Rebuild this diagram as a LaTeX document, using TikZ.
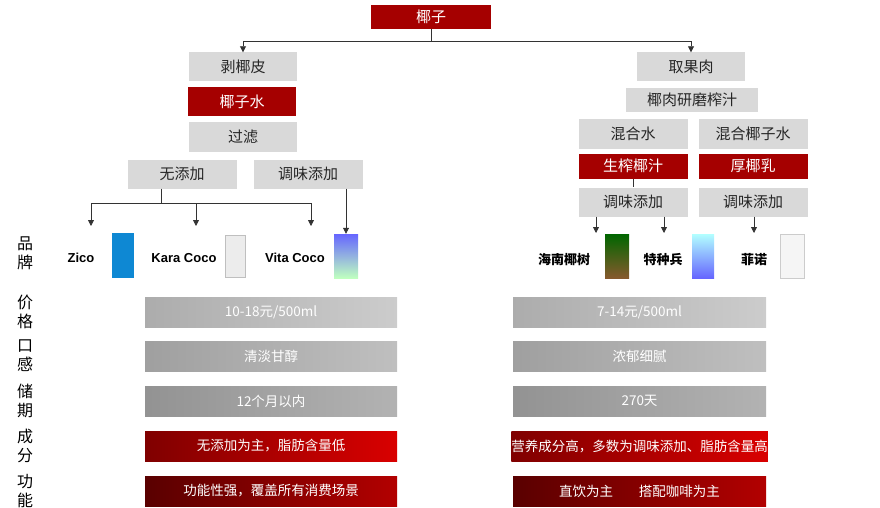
\documentclass[tikz,border=0pt]{standalone}
\usepackage{fontspec}
\setmainfont{Noto Sans CJK SC}
\newfontfamily\latinbold{Liberation Sans}
\usetikzlibrary{arrows.meta}
\definecolor{boxgray}{HTML}{D9D9D9}
\definecolor{cocored}{HTML}{A50000}
\tikzset{
  graybox/.style={fill=boxgray,minimum height=#1,inner sep=0pt,font=\fontsize{15}{15}\selectfont,text=black!85},
  graybox/.default=29pt,
  redbox/.style={fill=cocored,minimum height=#1,inner sep=0pt,font=\fontsize{15}{15}\selectfont,text=white},
  redbox/.default=29pt,
  arr/.style={-{Triangle[length=6pt,width=6pt]},black!80,line width=0.8pt},
  lnk/.style={black!80,line width=0.8pt},
  brand/.style={font=\bfseries\fontsize{13}{13}\selectfont,inner sep=0pt},
  rowlbl/.style={font=\fontsize{16}{19}\selectfont,align=center,inner sep=0pt},
  bartext/.style={font=\fontsize{13.5}{13.5}\selectfont,text=white}
}
\begin{document}
\begin{tikzpicture}[x=1pt,y=-1pt]
  \useasboundingbox (0,0) rectangle (880,508);
  % tree, top
  \node[redbox=24pt,minimum width=120pt] (root) at (431,17) {椰子};
  \node[graybox,minimum width=108pt] (peel) at (243,67) {剥椰皮};
  \node[redbox,minimum width=108pt] (water) at (242,102) {椰子水};
  \node[graybox,minimum width=108pt] (filter) at (243,137) {过滤};
  \node[graybox,minimum width=109pt] (plain) at (182,174) {无添加};
  \node[graybox,minimum width=109pt] (flavl) at (308,174) {调味添加};
  \node[graybox,minimum width=108pt] (flesh) at (691,67) {取果肉};
  \node[graybox=24pt,minimum width=132pt] (grind) at (692,100) {椰肉研磨榨汁};
  \node[graybox,minimum width=109pt] (mixw) at (633,134) {混合水};
  \node[graybox,minimum width=109pt] (mixc) at (753,134) {混合椰子水};
  \node[redbox=25pt,minimum width=109pt] (juice) at (633,166) {生榨椰汁};
  \node[redbox=25pt,minimum width=109pt] (milk) at (753,166) {厚椰乳};
  \node[graybox,minimum width=109pt] (flavr) at (633,202) {调味添加};
  \node[graybox,minimum width=109pt] (flavm) at (753,202) {调味添加};
  \coordinate (split) at (431,41);
  \draw[lnk] (root.south) -- (split);
  \draw[arr] (split) -| (peel.north);
  \draw[arr] (split) -| (flesh.north);
  \draw[lnk] (juice.south) -- (flavr.north);
  % brands
  \node[brand] (zico) at (81,258) {\latinbold\bfseries Zico};
  \node[brand] (kara) at (184,258) {\latinbold\bfseries Kara Coco};
  \node[brand] (vita) at (295,258) {\latinbold\bfseries Vita Coco};
  \node[brand] (yeshu) at (564,260) {海南椰树};
  \node[brand] (tezhong) at (663,260) {特种兵};
  \node[brand] (feinuo) at (754,260) {菲诺};
  % packs
  \node[fill=cyan!70!blue,minimum width=22pt,minimum height=45pt,inner sep=0pt] (pzico) at (123,255) {};
  \node[fill=gray!15,draw=gray!50,minimum width=20pt,minimum height=42pt,inner sep=0pt] (pkara) at (235,256) {};
  \node[top color=blue!60,bottom color=green!25,minimum width=24pt,minimum height=44pt,inner sep=0pt] (pvita) at (346,256) {};
  \node[top color=green!40!black,bottom color=brown!70!black,minimum width=24pt,minimum height=44pt,inner sep=0pt] (pyeshu) at (617,256) {};
  \node[top color=cyan!30,bottom color=blue!60,minimum width=22pt,minimum height=44pt,inner sep=0pt] (ptezhong) at (703,256) {};
  \node[fill=gray!8,draw=gray!40,minimum width=24pt,minimum height=44pt,inner sep=0pt] (pfeinuo) at (792,256) {};
  \coordinate (fork) at (161,203);
  \draw[lnk] (plain.south -| fork) -- (fork);
  \draw[arr] (fork) -| (91,226);
  \draw[arr] (fork) -| (196,226);
  \draw[arr] (fork) -| (311,226);
  \draw[arr] (flavl.south -| 346,0) -- (pvita.north -| 346,0);
  \draw[arr] (flavr.south -| 596,0) -- (596,233);
  \draw[arr] (flavr.south -| 664,0) -- (664,233);
  \draw[arr] (flavm.south -| 754,0) -- (754,233);
  % rows
  \node[rowlbl] (lbrand) at (25,253) {品\\牌};
  \foreach \y/\lbl/\lc/\rc/\tl/\tr [count=\i] in {
      312/价\\格/gray!65/gray!40/{10-18元/500ml}/{7-14元/500ml},
      356/口\\感/gray!75/gray!50/清淡甘醇/浓郁细腻,
      401/储\\期/gray!85/gray!60/12个月以内/270天,
      446/成\\分/{red!50!black}/{red!85!black}/无添加为主，脂肪含量低/营养成分高，多数为调味添加、脂肪含量高,
      491/功\\能/{red!35!black}/{red!70!black}/功能性强，覆盖所有消费场景/直饮为主\hspace{26pt}搭配咖啡为主} {
    \node[rowlbl] (lbl\i) at (25,\y) {\lbl};
    \node[left color=\lc,right color=\rc,minimum width=252pt,minimum height=30pt,inner sep=0pt,bartext] (bl\i) at (271,\y) {\tl};
    \node[left color=\lc,right color=\rc,minimum width=253pt,minimum height=30pt,inner sep=0pt,bartext] (br\i) at (639.5,\y) {\tr};
  }
\end{tikzpicture}
\end{document}
